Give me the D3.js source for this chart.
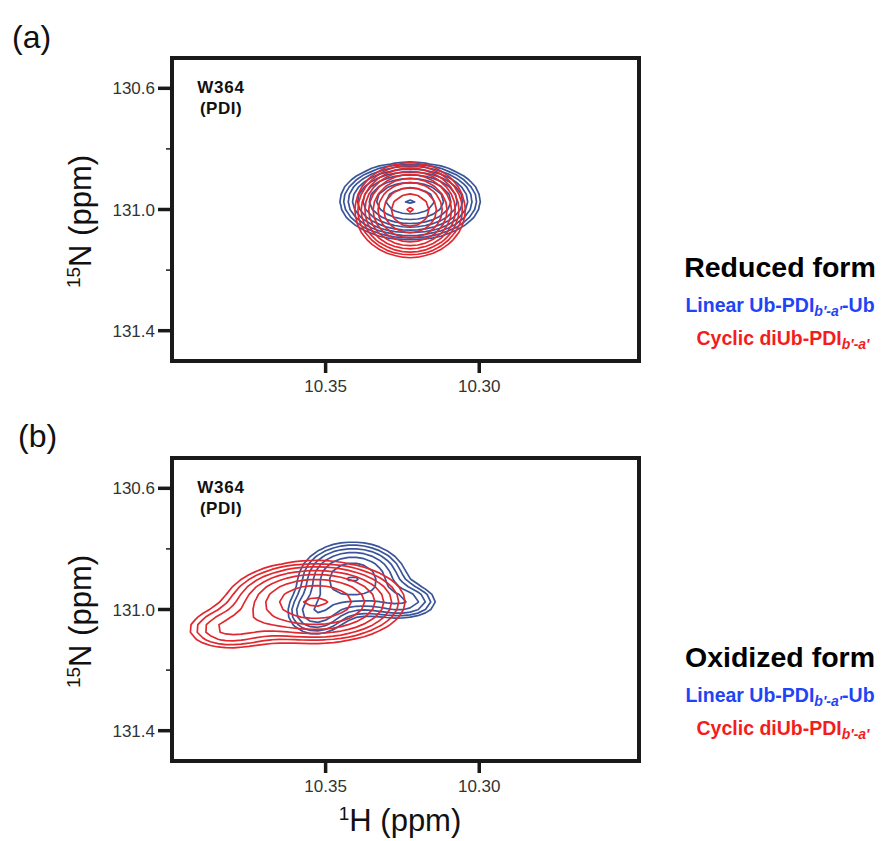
<!DOCTYPE html>
<html>
<head>
<title>W364 (PDI) HSQC contours</title>
<script src="https://d3js.org/d3.v7.min.js"></script>
<style>
    body { margin: 0; background: #fff; }
    svg text { font-family: 'Liberation Sans', Arial, Helvetica, sans-serif; }
</style>
</head>
<body>
<svg id="chart" width="887" height="841"></svg>
<script>
    // axes
    var hDomain = [10.40, 10.248];
    var nDomain = [130.5, 131.5];
    var xTicks = [10.35, 10.30];
    var yTicks = [130.6, 131.0, 131.4];
    var yMinorTicks = [130.8, 131.2];

    // contour levels (arbitrary intensity units)
    var levels = [1, 1.3, 1.69, 2.197, 2.856, 3.713, 4.827, 6.275, 8.157, 10.604];

    // peak components: [1H ppm, 15N ppm, height, width 1H, width 15N]
    var reducedLinear = [[10.3225, 130.972, 10.8, 0.01045, 0.0583]];
    var reducedCyclic = [[10.3225, 131.002, 10.8, 0.0082, 0.0713]];
    var oxidizedLinear = [
        [10.3412, 130.896, 4.9, 0.0097, 0.066],
        [10.3242, 130.975, 2.4, 0.0072, 0.036],
        [10.3535, 131.015, 2.4, 0.0062, 0.048]
    ];
    var oxidizedCyclic = [
        [10.3532, 130.975, 6.5, 0.015, 0.07],
        [10.3824, 131.068, 2.0, 0.0095, 0.046]
    ];

    var hStep = 0.0025, nStep = 0.025;
    var W = 467, H = 303;
    var contourBlue = "#3a5499", contourRed = "#e0282f";
    var legendBlue = "#1f44f5", legendRed = "#f41c1c";

    var svg = d3.select("#chart");
    var x = d3.scaleLinear().domain(hDomain).range([0, W]);
    var y = d3.scaleLinear().domain(nDomain).range([0, H]);

    function grid(peaks)
    {
        var nx = Math.ceil((hDomain[0] - hDomain[1]) / hStep) + 2;
        var ny = Math.ceil((nDomain[1] - nDomain[0]) / nStep) + 2;
        var vals = new Array(nx * ny);
        for (var j = 0; j < ny; j++) {
            for (var i = 0; i < nx; i++) {
                var h = hDomain[0] - i * hStep, n = nDomain[0] + j * nStep, v = 0;
                peaks.forEach(function(p) {
                    var u = (h - p[0]) / p[3], w = (n - p[1]) / p[4];
                    v += p[2] * Math.exp(-(u * u + w * w) / 2);
                });
                vals[j * nx + i] = v;
            }
        }
        return {nx: nx, ny: ny, values: vals};
    }

    var proj = d3.geoTransform({
        point: function(gx, gy) {
            this.stream.point(x(hDomain[0] - (gx - 0.5) * hStep), y(nDomain[0] + (gy - 0.5) * nStep));
        }
    });
    var path = d3.geoPath(proj);

    function drawPeak(g, peaks, color)
    {
        var gr = grid(peaks);
        var cs = d3.contours().size([gr.nx, gr.ny]).thresholds(levels)(gr.values);
        g.selectAll(null).data(cs).enter().append("path")
            .attr("d", path)
            .attr("fill", "none")
            .attr("stroke", color)
            .attr("stroke-width", 1.7)
            .attr("stroke-linejoin", "round");
    }

    function addLegendLine(parent, main, color, yPos, xPos, tail)
    {
        var t = parent.append("text")
            .attr("x", xPos).attr("y", yPos)
            .attr("text-anchor", "middle")
            .attr("font-size", 19.5).attr("font-weight", "bold")
            .attr("fill", color);
        t.append("tspan").text(main);
        t.append("tspan").attr("font-size", 14).attr("font-style", "italic").attr("dy", 4).text("b\u2032-a\u2032");
        if (tail) t.append("tspan").attr("dy", -4).text(tail);
    }

    var panels = [
        {tag: "(a)", tagX: 12, tagY: 48, top: 58, linear: reducedLinear, cyclic: reducedCyclic,
         form: "Reduced form", formY: 277, xTitle: false},
        {tag: "(b)", tagX: 18, tagY: 447, top: 458, linear: oxidizedLinear, cyclic: oxidizedCyclic,
         form: "Oxidized form", formY: 667, xTitle: true}
    ];

    panels.forEach(function(p, k)
    {
        var g = svg.append("g").attr("transform", "translate(172," + p.top + ")");

        svg.append("text").attr("x", p.tagX).attr("y", p.tagY)
            .attr("font-size", 32).attr("fill", "#111").text(p.tag);

        g.append("clipPath").attr("id", "clip" + k)
            .append("rect").attr("width", W).attr("height", H);

        var plot = g.append("g").attr("clip-path", "url(#clip" + k + ")");
        drawPeak(plot, p.linear, contourBlue);
        drawPeak(plot, p.cyclic, contourRed);

        // frame
        g.append("rect").attr("width", W).attr("height", H)
            .attr("fill", "none").attr("stroke", "#1a1a1a").attr("stroke-width", 4);

        // y ticks
        g.selectAll(".yt").data(yTicks).enter().append("line")
            .attr("x1", -14).attr("x2", 0)
            .attr("y1", function(d) { return y(d); }).attr("y2", function(d) { return y(d); })
            .attr("stroke", "#1a1a1a").attr("stroke-width", 3.5);
        g.selectAll(".ym").data(yMinorTicks).enter().append("line")
            .attr("x1", -6).attr("x2", 0)
            .attr("y1", function(d) { return y(d); }).attr("y2", function(d) { return y(d); })
            .attr("stroke", "#1a1a1a").attr("stroke-width", 1.5);
        g.selectAll(".yl").data(yTicks).enter().append("text")
            .attr("x", -17).attr("y", function(d) { return y(d); })
            .attr("dy", "0.36em").attr("text-anchor", "end")
            .attr("font-size", 17).attr("fill", "#333")
            .text(function(d) { return d.toFixed(1); });

        // x ticks
        g.selectAll(".xt").data(xTicks).enter().append("line")
            .attr("y1", H).attr("y2", H + 12)
            .attr("x1", function(d) { return x(d); }).attr("x2", function(d) { return x(d); })
            .attr("stroke", "#1a1a1a").attr("stroke-width", 3.5);
        g.selectAll(".xl").data(xTicks).enter().append("text")
            .attr("y", H + 31).attr("x", function(d) { return x(d); })
            .attr("text-anchor", "middle")
            .attr("font-size", 17).attr("fill", "#333")
            .text(function(d) { return d.toFixed(2); });

        // residue label
        g.append("text").attr("x", 49).attr("y", 35).attr("text-anchor", "middle")
            .attr("font-size", 17).attr("font-weight", "bold").attr("letter-spacing", 0.8)
            .attr("fill", "#111").text("W364");
        g.append("text").attr("x", 49).attr("y", 56).attr("text-anchor", "middle")
            .attr("font-size", 17).attr("font-weight", "bold").attr("letter-spacing", 0.5)
            .attr("fill", "#111").text("(PDI)");

        // y title
        var yt = svg.append("text")
            .attr("transform", "translate(91," + (p.top + H / 2 + 12) + ") rotate(-90)")
            .attr("text-anchor", "middle").attr("font-size", 31).attr("fill", "#111");
        yt.append("tspan").attr("font-size", 19).attr("dy", -11).text("15");
        yt.append("tspan").attr("dy", 11).text("N (ppm)");

        if (p.xTitle) {
            var xt = svg.append("text").attr("x", 400).attr("y", 831)
                .attr("text-anchor", "middle").attr("font-size", 31).attr("fill", "#111");
            xt.append("tspan").attr("font-size", 19).attr("dy", -11).text("1");
            xt.append("tspan").attr("dy", 11).text("H (ppm)");
        }

        // legend
        svg.append("text").attr("x", 780).attr("y", p.formY).attr("text-anchor", "middle")
            .attr("font-size", 28.5).attr("font-weight", "bold").attr("fill", "#000").text(p.form);
        addLegendLine(svg, "Linear Ub-PDI", legendBlue, p.formY + 35, 780, "-Ub");
        addLegendLine(svg, "Cyclic diUb-PDI", legendRed, p.formY + 68, 783, null);
    });
</script>
</body>
</html>
